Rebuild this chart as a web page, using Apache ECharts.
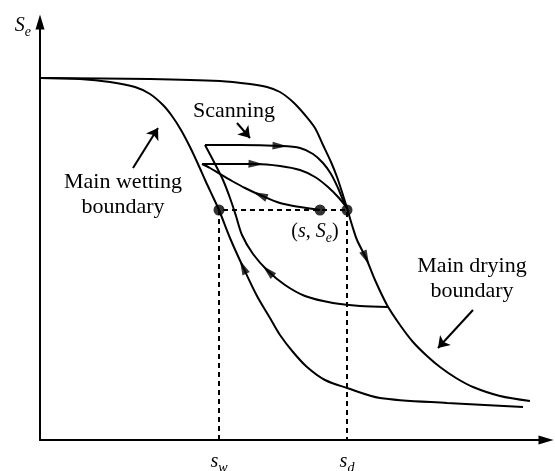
<!DOCTYPE html>
<html>
<head>
<meta charset="utf-8">
<title>Main drying / wetting boundaries and scanning curves</title>
<script src="https://cdn.jsdelivr.net/npm/echarts@6/dist/echarts.min.js"></script>
<style>
  html, body { margin: 0; padding: 0; background: #fff; }
  #chart { width: 555px; height: 471px; }
</style>
</head>
<body>
<div id="chart"></div>
<script>
// schematic units: suction s on x, effective saturation Se on y
// every curve is listed in the direction it is travelled (arrow direction)
const mainDrying = [
  [0, 362], [110, 361], [180, 359], [210, 356], [227, 353], [240, 348], [253, 338],
  [265, 325], [275, 312], [283, 295], [291, 278], [297, 263], [302, 248], [307, 232],
  [312, 215], [317, 200], [326, 182], [335, 160], [347, 135], [360, 115], [373, 98],
  [387, 84], [400, 73], [416, 62], [433, 53], [460, 44], [490, 39]
];
const mainWetting = [
  [483, 33], [407, 37], [340, 42], [307, 52], [285, 60], [267, 73], [253, 88],
  [240, 105], [230, 122], [217, 144], [203, 173], [190, 202], [179, 230], [173, 243],
  [166, 258], [158, 276], [150, 293], [141, 310], [132, 324], [123, 335], [110, 346],
  [95, 353], [70, 358], [40, 361], [0, 362]
];
const scanWetA = [
  [348, 133], [320, 134], [293, 137], [265, 144], [245, 155], [228, 169], [213, 186],
  [202, 205], [196, 224], [190, 242], [183, 260], [174, 278], [165, 295]
];
const scanDryB = [
  [165, 295], [200, 295], [240, 294], [260, 292], [273, 286], [283, 277], [291, 266],
  [298, 252], [303, 240], [307, 232]
];
const scanDryC = [
  [162, 276], [190, 276], [216, 276], [240, 274], [260, 270], [275, 263], [288, 253],
  [299, 242], [307, 232]
];
const scanWetD = [
  [280, 230], [260, 233], [240, 237], [220, 245], [205, 252], [192, 259], [180, 266],
  [170, 272], [162, 276]
];

// index of the point on each curve that carries the direction arrow
const curves = [
  { data: mainDrying, arrowAt: 16 },
  { data: mainWetting, arrowAt: 10 },
  { data: scanWetA, arrowAt: 5 },
  { data: scanDryB, arrowAt: 2 },
  { data: scanDryC, arrowAt: 2 },
  { data: scanWetD, arrowAt: 3 }
];

// state point (s, Se) and the suctions on the two boundaries at the same Se
const sW = 179;
const sD = 307;
const sNow = 280;
const seNow = 230;
const xTickValues = [sW, sD];
const xTickSubs = ['w', 'd'];

// annotation pointers: [tail, head]
const pointers = [
  [[197, 317], [210, 302]],
  [[93, 272], [118, 312]],
  [[433, 130], [398, 92]]
];

const FONT = 'Liberation Serif, Times New Roman, serif';
const rich = {
  n: { fontFamily: FONT, fontSize: 20, color: '#000', lineHeight: 26 },
  i: { fontFamily: FONT, fontSize: 20, fontStyle: 'italic', color: '#000', lineHeight: 26 },
  sub: { fontFamily: FONT, fontSize: 14, fontStyle: 'italic', color: '#000', verticalAlign: 'bottom', lineHeight: 26 }
};

const chart = echarts.init(document.getElementById('chart'), null, { renderer: 'canvas' });

const axisCommon = {
  type: 'value',
  splitLine: { show: false },
  axisTick: { show: false },
  axisLine: {
    onZero: false,
    symbol: ['none', 'triangle'],
    symbolSize: [9, 15],
    lineStyle: { color: '#000', width: 2 }
  }
};

function textEl(text, x, y) {
  return {
    type: 'text',
    x: x,
    y: y,
    silent: true,
    style: {
      text: text,
      fontFamily: FONT,
      fontSize: 22,
      fill: '#000',
      align: 'center',
      verticalAlign: 'middle',
      lineHeight: 25,
      rich: rich
    }
  };
}

const option = {
  animation: false,
  backgroundColor: '#fff',
  grid: { left: 40, right: 9, top: 22, bottom: 31, outerBoundsMode: 'none' },
  xAxis: Object.assign({}, axisCommon, {
    min: 0,
    max: 506,
    axisLabel: {
      show: true,
      customValues: xTickValues,
      margin: 9,
      formatter: (v) => '{i|s}{sub|' + xTickSubs[xTickValues.indexOf(v)] + '}',
      rich: rich
    }
  }),
  yAxis: Object.assign({}, axisCommon, {
    min: 0,
    max: 418,
    axisLabel: { show: false },
    name: '{i|S}{sub|e}',
    nameLocation: 'end',
    nameGap: 9,
    nameTextStyle: { align: 'right', verticalAlign: 'top', padding: [0, 9, 0, 0], rich: rich }
  }),
  graphic: [
    textEl('Scanning', 234, 111),
    textEl('Main wetting\nboundary', 123, 195),
    textEl('Main drying\nboundary', 472, 279),
    textEl('{n|(}{i|s}{n|, }{i|S}{sub|e}{n|)}', 315, 232)
  ],
  series: []
};

curves.forEach((c) => {
  option.series.push({
    type: 'line',
    data: c.data,
    smooth: 0.3,
    showSymbol: false,
    silent: true,
    lineStyle: { color: '#000', width: 2 },
    z: 3
  });
});

option.series.push({
  type: 'line',
  data: [[sW, 0], [sW, seNow], [sD, seNow], [sD, 0]],
  showSymbol: false,
  silent: true,
  lineStyle: { color: '#000', width: 2, type: [5, 4] },
  z: 2
});

option.series.push({
  type: 'scatter',
  data: [[sW, seNow], [sNow, seNow], [sD, seNow]],
  symbol: 'circle',
  symbolSize: 11,
  itemStyle: { color: '#000' },
  silent: true,
  z: 5
});

option.series.push({
  type: 'lines',
  coordinateSystem: 'cartesian2d',
  data: pointers.map((p) => ({ coords: p })),
  symbol: ['none', 'arrow'],
  symbolSize: [0, 11],
  lineStyle: { color: '#000', width: 2, opacity: 1, curveness: 0 },
  silent: true,
  z: 4
});

chart.setOption(option);

// direction arrows: orient each triangle along the curve in pixel space
const arrowData = curves.map((c) => {
  const i = c.arrowAt;
  const a = chart.convertToPixel({ gridIndex: 0 }, c.data[i - 1]);
  const b = chart.convertToPixel({ gridIndex: 0 }, c.data[i + 1]);
  const ang = Math.atan2(-(b[1] - a[1]), b[0] - a[0]) * 180 / Math.PI;
  return { value: c.data[i], symbolRotate: ang - 90 };
});

chart.setOption({
  series: option.series.concat([{
    type: 'scatter',
    data: arrowData,
    symbol: 'triangle',
    symbolSize: [8, 15],
    itemStyle: { color: '#000' },
    silent: true,
    z: 6
  }])
});
</script>
</body>
</html>
